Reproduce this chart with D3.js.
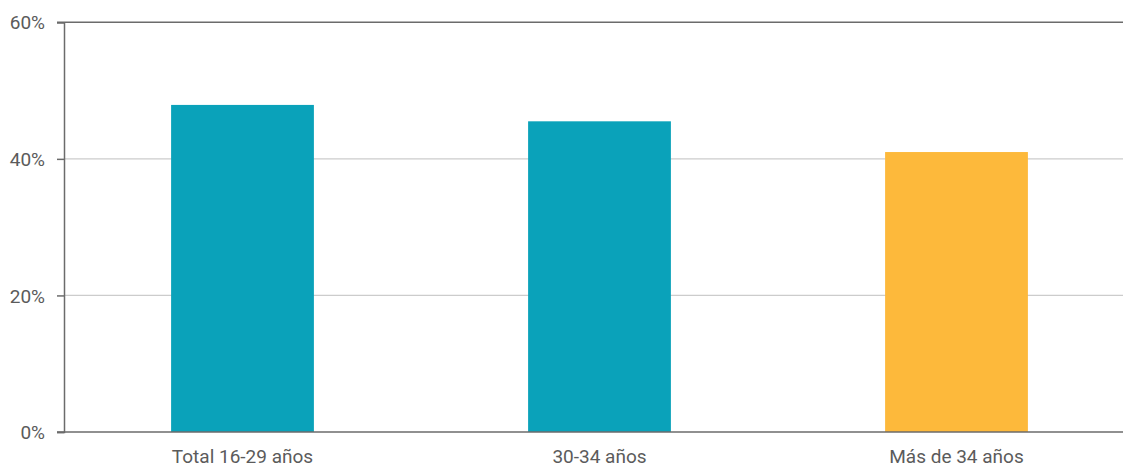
<!DOCTYPE html>
<html>
<head>
<meta charset="utf-8">
<script src="https://cdn.jsdelivr.net/npm/d3@7"></script>
<style>
  html, body { margin: 0; padding: 0; background: #fff; }
  svg { display: block; }
  text { font-family: Roboto, "DejaVu Sans", sans-serif; fill: #5b5b5b; }
</style>
</head>
<body>
<svg id="chart" width="1123" height="468"></svg>
<script>
const categories = ["Total 16-29 años", "30-34 años", "Más de 34 años"];
const values = [47.9, 45.5, 41.0];
const barColors = ["#0aa2ba", "#0aa2ba", "#fdb93b"];
const yTicks = [0, 20, 40, 60];
const yTickLabels = ["0%", "20%", "40%", "60%"];

(function () {
const svg = d3.select("#chart");
const mLeft = 64, mRight = 1123, mTop = 22.3, mBottom = 432;

const x = d3.scaleBand().domain(categories).range([mLeft, 1135]).paddingInner(0.6).paddingOuter(0.3);
const y = d3.scaleLinear().domain([0, 60]).range([mBottom, mTop]);

// gridlines
svg.append("g").selectAll("line").data(yTicks.filter(t => t > 0 && t < 60)).join("line")
  .attr("x1", mLeft).attr("x2", mRight)
  .attr("y1", d => y(d)).attr("y2", d => y(d))
  .attr("stroke", "#cccccc").attr("stroke-width", 1.2);

// bars
svg.append("g").selectAll("rect").data(categories).join("rect")
  .attr("x", d => x(d))
  .attr("width", x.bandwidth())
  .attr("y", (d, i) => y(values[i]))
  .attr("height", (d, i) => y(0) - y(values[i]))
  .attr("fill", (d, i) => barColors[i]);

// top border line (60%)
svg.append("line").attr("x1", mLeft - 7).attr("x2", mRight).attr("y1", y(60)).attr("y2", y(60))
  .attr("stroke", "#6b6b6b").attr("stroke-width", 1.5);
// bottom axis line
svg.append("line").attr("x1", mLeft - 7).attr("x2", mRight).attr("y1", y(0)).attr("y2", y(0))
  .attr("stroke", "#6b6b6b").attr("stroke-width", 1.5);

// y axis
const yAxis = d3.axisLeft(y).tickValues(yTicks).tickFormat((d, i) => yTickLabels[i]).tickSize(7).tickPadding(12);
const ga = svg.append("g").attr("transform", `translate(${mLeft},0)`).call(yAxis);
ga.select(".domain").attr("stroke", "#6b6b6b").attr("stroke-width", 1.5);
ga.selectAll(".tick line").attr("stroke", "#6b6b6b").attr("stroke-width", 1.5);
ga.selectAll(".tick text").attr("font-size", 19).attr("fill", "#5b5b5b")
  .style("font-family", "Roboto, 'DejaVu Sans', sans-serif").attr("dy", "0.35em");

// x labels
svg.append("g").selectAll("text").data(categories).join("text")
  .attr("x", d => x(d) + x.bandwidth() / 2)
  .attr("y", 463)
  .attr("text-anchor", "middle")
  .attr("font-size", 19)
  .text(d => d);
})();
</script>
</body>
</html>
